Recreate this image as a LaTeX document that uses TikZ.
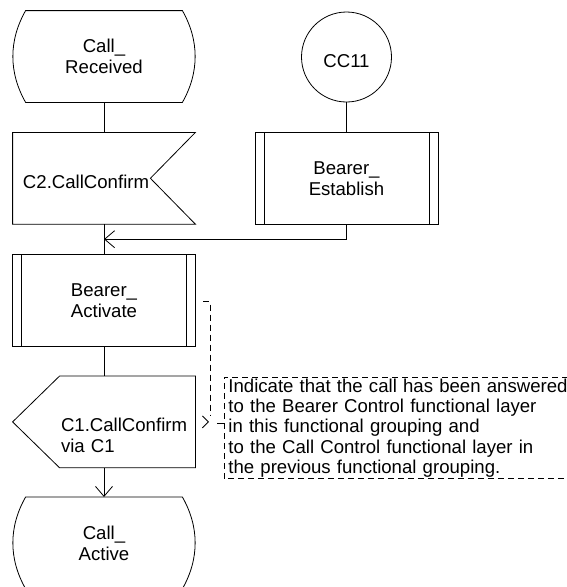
\documentclass[tikz,border=0pt]{standalone}
\usepackage{fontspec}
\setmainfont{Liberation Sans}
\usetikzlibrary{arrows.meta, positioning, calc}
\newcommand{\sdlfont}{\fontsize{18.6}{21}\selectfont}
% SDL symbols, drawn round a named node
\newcommand{\statesym}[1]{%
  \draw ($(#1.north west)+(13,0)$) -- ($(#1.north east)+(-13,0)$)
    .. controls +(17,30) and +(17,-30) .. ($(#1.south east)+(-13,0)$)
    -- ($(#1.south west)+(13,0)$)
    .. controls +(-17,-30) and +(-17,30) .. ($(#1.north west)+(13,0)$) -- cycle;}
\newcommand{\inputsym}[1]{%
  \draw (#1.north west) -- (#1.north east) -- ($(#1.east)+(-45,0)$)
    -- (#1.south east) -- (#1.south west) -- cycle;}
\newcommand{\outputsym}[1]{%
  \draw ($(#1.north west)+(-1,0)$) -- (#1.north east) -- (#1.south east)
    -- ($(#1.south west)+(-1,0)$) -- ($(#1.west)+(-48,0)$) -- cycle;}
\newcommand{\procsym}[1]{%
  \draw (#1.north west) rectangle (#1.south east);
  \draw ($(#1.north west)+(9,0)$) -- ($(#1.south west)+(9,0)$);
  \draw ($(#1.north east)+(-9,0)$) -- ($(#1.south east)+(-9,0)$);}

\begin{document}
\begin{tikzpicture}[x=1pt, y=-1pt, line width=0.8pt,
    >={Straight Barb[length=10pt, width=17pt]},
    box/.style={minimum width=182pt, minimum height=91pt, inner sep=0pt, text depth=0pt, align=center,
      font=\sdlfont, execute at begin node={\rule{0pt}{20pt}}},
    note/.style={anchor=north west, text width=345pt, inner xsep=4pt, inner ysep=1pt, minimum height=101pt,
      align=left, font=\fontsize{18.6}{20.3}\selectfont},
    commentline/.style={dash pattern=on 6pt off 4pt}]
  \useasboundingbox (0,0) rectangle (567,587);

  \node[box] (rcv) at (104,56.5) {Call\_\\Received};
  \node[box, below=30pt of rcv, text width=162pt, inner xsep=10pt, align=left] (conf2) {C2.CallConfirm};
  \node[box, below=30pt of conf2] (act) {Bearer\_\\Activate};
  \node[box, minimum width=0pt, text width=134pt, align=left, anchor=north east] (out)
    at ($(act.south east)+(0,30)$) {C1.CallConfirm\\via C1};
  \node[box, below=151pt of act] (ca) {Call\_\\Active};
  \node[circle, draw, minimum size=90pt, inner sep=0pt, text depth=0pt, font=\sdlfont,
    execute at begin node={\rule{0pt}{20pt}}] (cc11) at (346.5,57) {CC11};
  \node[box, below=30pt of cc11] (est) {Bearer\_\\Establish};
  \node[note] (note) at (224,377) {Indicate that the call has been answered\\to the Bearer Control functional layer\\in this functional grouping and\\to the Call Control functional layer in\\the previous functional grouping.};

  \statesym{rcv}
  \inputsym{conf2}
  \procsym{act}
  \outputsym{out}
  \statesym{ca}
  \procsym{est}

  \coordinate (j1) at ($(conf2.south)!0.5!(act.north)$);
  \coordinate (cend) at ($(note.west)+(-14,-12)$);
  \draw (rcv) -- (conf2);
  \draw (conf2) -- (act);
  \draw (cc11) -- (est);
  \draw[->] (est) |- (j1);
  \draw (act) -- (act |- out.north);
  \draw[->] (act |- out.south) -- (ca);

  \draw[commentline] (note.north east) -- (note.north west) -- (note.south west) -- (note.south east);
  \draw (note.west) ++(0,-5) -- ++(-7,0);
  \draw[commentline] ($(act.east)+(8,1)$) -| (cend);
  \draw ($(out.east)+(7,-6)$) -- ++(6,6) -- ++(-6,6);
\end{tikzpicture}
\end{document}
